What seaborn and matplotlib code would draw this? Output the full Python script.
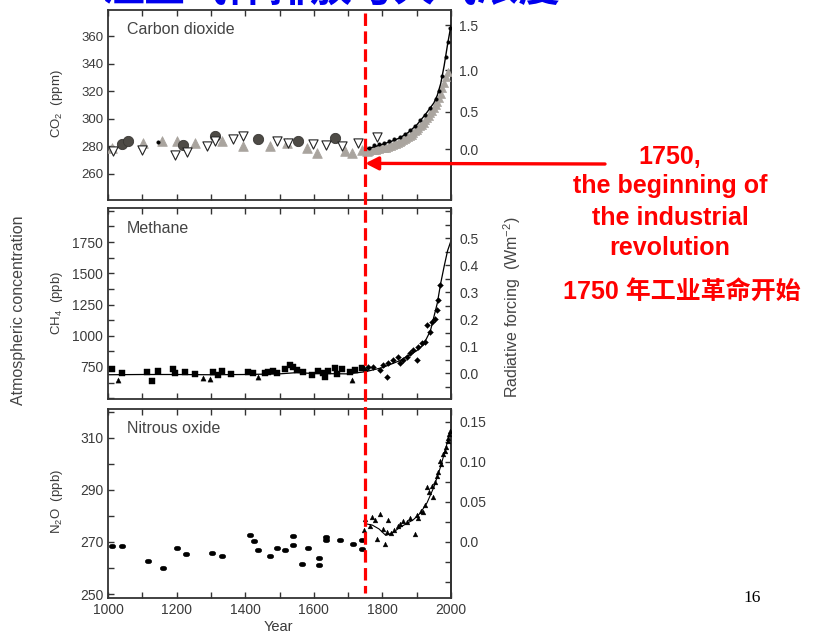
import numpy as np
import pandas as pd
import matplotlib
matplotlib.use("Agg")
import matplotlib.pyplot as plt
import seaborn as sns
from matplotlib.lines import Line2D
from matplotlib import transforms
from matplotlib.ticker import MultipleLocator

# ---------------- data ----------------
# Carbon dioxide (ppm)
co2_circle_years = [1040, 1059, 1220, 1312, 1438, 1555, 1662]
co2_circle_ppm = [281.4, 283.8, 281.0, 287.5, 285.0, 283.8, 286.3]

co2_tri_years = [1011, 1103, 1156, 1200, 1254, 1331, 1394, 1472, 1521, 1579, 1608,
                 1691, 1711, 1740, 1755]
co2_tri_ppm = [279.0, 282.6, 283.8, 283.8, 282.1, 283.8, 280.2, 280.2, 282.6, 279.0,
               275.4, 276.5, 275.4, 277.5, 276.5]

co2_open_years = [1016, 1098, 1195, 1229, 1288, 1312, 1365, 1394, 1492, 1526, 1598,
                  1637, 1681, 1730, 1783]
co2_open_ppm = [276.5, 277.0, 273.4, 275.7, 280.2, 283.8, 285.0, 287.5, 283.8, 282.1,
                281.4, 281.0, 280.2, 282.6, 287.0]

co2_core_years = [1760, 1765, 1770, 1775, 1780, 1785, 1790, 1795, 1800, 1805, 1810,
                  1815, 1820, 1825, 1830, 1835, 1840, 1845, 1850, 1855, 1860, 1865,
                  1870, 1875, 1880, 1885, 1890, 1895, 1900, 1905, 1910, 1915, 1920,
                  1925, 1930, 1935, 1940, 1945, 1950, 1955, 1960, 1965, 1970, 1975,
                  1980, 1985, 1990]
co2_core_ppm = [276.5, 277.0, 277.0, 277.5, 277.5, 278.0, 278.0, 278.5, 278.5, 279.0,
                279.0, 279.5, 280.0, 280.5, 281.0, 281.5, 282.0, 282.5, 283.0, 283.5,
                284.5, 285.0, 286.0, 287.0, 287.5, 288.5, 289.5, 291.0, 292.0, 293.0,
                294.5, 295.5, 297.0, 299.0, 300.5, 302.0, 304.0, 306.0, 308.0, 310.0,
                312.0, 315.0, 318.0, 322.0, 326.0, 330.0, 334.0]

co2_dot_years = [1147, 1760, 1775, 1790, 1805, 1820, 1835, 1850, 1865, 1880, 1895,
                 1910, 1925, 1940, 1955, 1965, 1975, 1985, 1992, 1998]
co2_dot_ppm = [283.0, 279.0, 281.0, 282.0, 282.5, 283.5, 285.0, 286.5, 289.0, 291.5,
               294.5, 299.0, 303.0, 308.0, 314.0, 320.0, 331.0, 345.0, 356.0, 366.0]

co2_line_years = [1750, 1775, 1800, 1825, 1850, 1875, 1900, 1925, 1950, 1960, 1970,
                  1980, 1990, 2000]
co2_line_ppm = [278.0, 279.5, 281.5, 283.5, 286.0, 290.0, 295.5, 303.0, 311.5, 317.0,
                325.5, 338.5, 354.0, 368.0]

# Methane (ppb)
ch4_sq_years = [1011, 1040, 1113, 1127, 1147, 1190, 1195, 1224, 1254, 1307, 1322,
                1331, 1360, 1409, 1423, 1458, 1467, 1482, 1492, 1516, 1531, 1540,
                1550, 1569, 1594, 1613, 1628, 1633, 1642, 1662, 1667, 1681, 1706,
                1720, 1740]
ch4_sq_ppb = [731, 699, 713, 641, 721, 731, 705, 713, 694, 713, 686, 721, 694, 713,
              705, 699, 713, 721, 699, 731, 766, 753, 726, 713, 686, 718, 699, 673,
              721, 739, 694, 731, 713, 726, 739]

ch4_tri_years = [1030, 1278, 1297, 1438, 1711]
ch4_tri_ppb = [646, 659, 651, 673, 646]

ch4_mod_years = [1750, 1759, 1774, 1793, 1802, 1812, 1817, 1832, 1846, 1851, 1861,
                 1871, 1880, 1890, 1900, 1905, 1914, 1924, 1929, 1939, 1944, 1953,
                 1958, 1963, 1968]
ch4_mod_ppb = [726, 747, 753, 726, 766, 673, 779, 806, 833, 779, 806, 833, 865, 886,
               806, 913, 939, 953, 1086, 1033, 1113, 1131, 1206, 1286, 1406]

ch4_line_years = [1000, 1100, 1200, 1300, 1400, 1500, 1550, 1600, 1700, 1750, 1800,
                  1850, 1900, 1920, 1940, 1950, 1960, 1970, 1980, 1990, 2000]
ch4_line_ppb = [688, 690, 690, 688, 690, 695, 705, 698, 695, 712, 745, 800, 880, 930,
                1040, 1150, 1260, 1420, 1555, 1680, 1760]

# Nitrous oxide (ppb)
n2o_pre_years = [1011, 1040, 1118, 1161, 1200, 1227, 1302, 1331, 1414, 1427, 1438,
                 1472, 1492, 1516, 1538, 1540, 1565, 1582, 1616, 1616, 1637, 1637,
                 1676, 1715, 1740, 1740]
n2o_pre_ppb = [268.4, 268.4, 262.8, 260.1, 267.5, 265.3, 265.6, 264.5, 272.5, 270.4,
               266.8, 264.5, 267.8, 267.1, 272.2, 268.7, 261.7, 267.8, 264.0, 261.1,
               271.9, 270.9, 270.6, 269.1, 270.6, 267.2]

n2o_mod_years = [1745, 1750, 1764, 1769, 1778, 1783, 1793, 1802, 1808, 1812, 1817,
                 1825, 1835, 1845, 1851, 1860, 1871, 1880, 1895, 1900, 1905, 1912,
                 1919, 1925, 1929, 1935, 1944, 1948, 1952, 1958, 1962, 1968, 1972,
                 1978, 1982, 1986, 1990, 1992, 1995, 1998]
n2o_mod_ppb = [274.4, 278.9, 276.3, 279.5, 278.5, 271.3, 280.8, 275.1, 269.4, 273.8,
               278.3, 273.5, 274.5, 276.0, 277.0, 278.0, 277.6, 279.0, 273.2, 280.2,
               279.0, 282.0, 281.5, 284.0, 291.0, 289.0, 291.6, 287.1, 293.0, 295.4,
               297.0, 301.1, 300.0, 303.6, 305.0, 306.5, 308.7, 310.0, 311.5, 312.5]

n2o_line_years = [1750, 1770, 1790, 1810, 1830, 1850, 1870, 1890, 1910, 1930, 1950,
                  1970, 1990, 2000]
n2o_line_ppb = [277.0, 276.5, 275.0, 272.5, 273.5, 275.5, 277.0, 278.5, 281.0, 285.0,
                291.0, 299.0, 308.5, 313.0]

industrial_year = 1750

# ---------------- style ----------------
sns.set_style("ticks")
plt.rcParams['font.family'] = ['Liberation Sans', 'DejaVu Sans']
plt.rcParams['mathtext.fontset'] = 'custom'
plt.rcParams['mathtext.rm'] = 'Liberation Sans'
plt.rcParams['mathtext.it'] = 'Liberation Sans'

INK = '#3a3a3a'
RED = '#ff0000'

fig = plt.figure(figsize=(8.13, 6.33), dpi=100)
W, H = 813.0, 633.0


def px_axes(left, top, right, bottom):
    return fig.add_axes([left / W, 1 - bottom / H, (right - left) / W, (bottom - top) / H])


ax1 = px_axes(108, 10, 451, 200)
ax2 = px_axes(108, 208, 451, 399)
ax3 = px_axes(108, 409, 451, 598)

# flattened oval used for the nitrous oxide samples
oval = [(np.cos(t) * 1.0, np.sin(t) * 0.7) for t in np.linspace(0, 2 * np.pi, 25)]

# carbon dioxide
sns.lineplot(x=co2_line_years, y=co2_line_ppm, ax=ax1, color='black', lw=1.0,
             estimator=None, sort=True, zorder=5)
sns.scatterplot(x=co2_core_years, y=co2_core_ppm, ax=ax1, marker='^', s=34,
                color='#aaa59f', edgecolor='#aaa59f', legend=False, zorder=3)
sns.scatterplot(x=co2_tri_years, y=co2_tri_ppm, ax=ax1, marker='^', s=48,
                color='#a9a49e', edgecolor='#a9a49e', legend=False, zorder=3)
sns.scatterplot(x=co2_circle_years, y=co2_circle_ppm, ax=ax1, marker='o', s=55,
                color='#4e4b46', edgecolor='#3a3835', legend=False, zorder=4)
sns.scatterplot(x=co2_open_years, y=co2_open_ppm, ax=ax1, marker='v', s=44,
                color='white', edgecolor='#222222', linewidth=0.8, legend=False, zorder=4)
sns.scatterplot(x=co2_dot_years, y=co2_dot_ppm, ax=ax1, marker='o', s=7,
                color='black', edgecolor='black', legend=False, zorder=6)

# methane
sns.lineplot(x=ch4_line_years, y=ch4_line_ppb, ax=ax2, color='black', lw=0.9,
             estimator=None, sort=True, zorder=2)
sns.scatterplot(x=ch4_sq_years, y=ch4_sq_ppb, ax=ax2, marker='s', s=14,
                color='black', edgecolor='black', legend=False, zorder=3)
sns.scatterplot(x=ch4_tri_years, y=ch4_tri_ppb, ax=ax2, marker='^', s=14,
                color='black', edgecolor='black', legend=False, zorder=3)
sns.scatterplot(x=ch4_mod_years, y=ch4_mod_ppb, ax=ax2, marker='D', s=9,
                color='black', edgecolor='black', legend=False, zorder=3)

# nitrous oxide
sns.lineplot(x=n2o_line_years, y=n2o_line_ppb, ax=ax3, color='black', lw=0.8,
             estimator=None, sort=True, zorder=2)
sns.scatterplot(x=n2o_pre_years, y=n2o_pre_ppb, ax=ax3, marker=oval, s=22,
                color='black', edgecolor='black', legend=False, zorder=3)
sns.scatterplot(x=n2o_mod_years, y=n2o_mod_ppb, ax=ax3, marker='^', s=12,
                color='black', edgecolor='black', legend=False, zorder=3)

# axes limits and ticks
ax1.set_ylim(241, 379)
ax2.set_ylim(494, 2022)
ax3.set_ylim(248.5, 321)
ax1.set_yticks([260, 280, 300, 320, 340, 360])
ax2.set_yticks([750, 1000, 1250, 1500, 1750])
ax2.yaxis.set_minor_locator(MultipleLocator(125))
ax3.set_yticks([250, 270, 290, 310])
ax3.yaxis.set_minor_locator(MultipleLocator(10))

for ax in (ax1, ax2, ax3):
    ax.set_xlim(1000, 2000)
    ax.xaxis.set_major_locator(MultipleLocator(200))
    ax.xaxis.set_minor_locator(MultipleLocator(100))
    ax.tick_params(which='both', direction='in', top=True, bottom=True, right=False,
                   length=4.5, width=1.0, color='#333333', labelcolor=INK, labelsize=10)
    ax.set_xlabel('')
    ax.set_ylabel('')
    for sp in ax.spines.values():
        sp.set_color('#333333')
        sp.set_linewidth(1.3)
ax1.tick_params(labelbottom=False, labelsize=9.5)
ax2.tick_params(labelbottom=False)
ax3.set_xticks([1000, 1200, 1400, 1600, 1800, 2000])


# radiative forcing scales on the right
def co2_forcing(c):
    return 5.35 * np.log(np.clip(c, 1e-6, None) / 278.0)


def co2_inverse(f):
    return 278.0 * np.exp(np.asarray(f) / 5.35)


def ch4_forcing(m):
    return (np.asarray(m) - 700.0) / 2160.0


def ch4_inverse(f):
    return np.asarray(f) * 2160.0 + 700.0


def n2o_forcing(n):
    return (np.asarray(n) - 270.0) / 307.0


def n2o_inverse(f):
    return np.asarray(f) * 307.0 + 270.0


sec1 = ax1.secondary_yaxis('right', functions=(co2_forcing, co2_inverse))
sec1.set_yticks([0.0, 0.5, 1.0, 1.5], ['0.0', '0.5', '1.0', '1.5'])
sec2 = ax2.secondary_yaxis('right', functions=(ch4_forcing, ch4_inverse))
sec2.set_yticks([0.0, 0.1, 0.2, 0.3, 0.4, 0.5], ['0.0', '0.1', '0.2', '0.3', '0.4', '0.5'])
sec2.yaxis.set_minor_locator(MultipleLocator(0.05))
sec3 = ax3.secondary_yaxis('right', functions=(n2o_forcing, n2o_inverse))
sec3.set_yticks([0.0, 0.05, 0.10, 0.15], ['0.0', '0.05', '0.10', '0.15'])
sec3.yaxis.set_minor_locator(MultipleLocator(0.025))
for sec in (sec1, sec2, sec3):
    sec.tick_params(which='both', direction='in', length=4.5, width=1.0,
                    color='#333333', labelcolor=INK, labelsize=10, pad=6)
    sec.spines['right'].set_color('#333333')
    sec.spines['right'].set_linewidth(1.3)

# panel names and axis titles
for ax, name in ((ax1, 'Carbon dioxide'), (ax2, 'Methane'), (ax3, 'Nitrous oxide')):
    ax.text(0.055, 0.895, name, transform=ax.transAxes, fontsize=11.5, color='#444444',
            ha='left', va='center')

fig.text(57 / W, 1 - 104 / H, 'CO$_2$  (ppm)', rotation=90, ha='center', va='center',
         fontsize=9.5, color=INK)
fig.text(57 / W, 1 - 303 / H, 'CH$_4$  (ppb)', rotation=90, ha='center', va='center',
         fontsize=9.5, color=INK)
fig.text(57 / W, 1 - 502 / H, 'N$_2$O  (ppb)', rotation=90, ha='center', va='center',
         fontsize=9.5, color=INK)
fig.text(19 / W, 1 - 310 / H, 'Atmospheric concentration', rotation=90, ha='center',
         va='center', fontsize=11.5, color='#444444')
fig.text(512 / W, 1 - 307 / H, 'Radiative forcing  (Wm$^{-2}$)', rotation=90, ha='center',
         va='center', fontsize=11.5, color='#444444')
fig.text(278 / W, 1 - 627 / H, 'Year', ha='center', va='center', fontsize=10.5, color=INK)

# industrial revolution marker
blend = transforms.blended_transform_factory(ax1.transData, fig.transFigure)
fig.add_artist(Line2D([industrial_year, industrial_year], [1 - 13 / H, 1 - 593 / H],
                      transform=blend, color=RED, lw=2.3, ls=(0, (3.9, 1.7)),
                      zorder=10))
ax1.annotate('', xy=(industrial_year, 267.6), xycoords='data',
             xytext=(605 / W, 1 - 164 / H), textcoords='figure fraction',
             arrowprops=dict(arrowstyle='-|>,head_length=0.55,head_width=0.28',
                             color=RED, lw=2.4, mutation_scale=14,
                             shrinkA=0, shrinkB=0),
             annotation_clip=False, zorder=11)

red_lines = ['1750,', 'the beginning of', 'the industrial', 'revolution']
red_ys = [157, 186, 218, 248]
for txt, yy in zip(red_lines, red_ys):
    fig.text(670 / W, 1 - yy / H, txt, ha='center', va='center', fontsize=18,
             weight='bold', color=RED)
fig.text(682 / W, 1 - 292 / H, '1750 年工业革命开始', ha='center', va='center',
         fontsize=18, weight='bold', color=RED,
         family=['Liberation Sans', 'Noto Sans CJK SC'])

# slide heading (runs off the top edge of the slide) and page number
fig.text(332 / W, 1 - 1.5 / H, '温室气体排放与大气浓度', ha='center', va='baseline',
         fontsize=30, weight='bold', color='#0000ee', family=['Noto Sans CJK SC'])
fig.text(752 / W, 1 - 598 / H, '16', ha='center', va='center', fontsize=12.5,
         color='black', family=['Liberation Serif'])

fig.savefig('out.png', dpi=100, facecolor='white')
